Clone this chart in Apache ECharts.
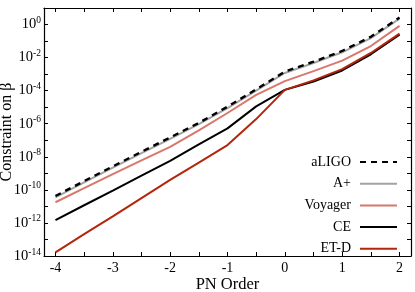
<!DOCTYPE html>
<html><head><meta charset="utf-8">
<script src="https://cdn.jsdelivr.net/npm/echarts@6/dist/echarts.min.js"></script>
<style>html,body{margin:0;padding:0;background:#fff}#c{width:415px;height:292px}</style>
</head><body><div id="c"></div>
<script>
const pnOrder = [-4,-3.5,-3,-2.5,-2,-1.5,-1,-0.5,0,0.5,1,1.5,2];
// log10 of the constraint on beta
const aLIGO   = [-10.37,-9.47,-8.58,-7.70,-6.83,-5.95,-4.97,-3.92,-2.85,-2.25,-1.60,-0.74,0.42];
const Aplus   = [-10.45,-9.55,-8.66,-7.78,-6.91,-6.03,-5.05,-4.00,-2.93,-2.33,-1.68,-0.82,0.36];
const Voyager = [-10.75,-9.90,-9.05,-8.22,-7.40,-6.40,-5.35,-4.25,-3.42,-2.82,-2.18,-1.30,-0.08];
const CE      = [-11.83,-10.93,-10.04,-9.14,-8.25,-7.25,-6.28,-4.95,-3.95,-3.45,-2.78,-1.80,-0.62];
const ETD     = [-13.78,-12.68,-11.60,-10.50,-9.40,-8.35,-7.29,-5.72,-3.95,-3.38,-2.70,-1.72,-0.55];
const xLabelVals = [-4,-3,-2,-1,0,1,2];
const xTickVals  = [-4,-3.5,-3,-2.5,-2,-1.5,-1,-0.5,0,0.5,1,1.5,2];
const yLabelVals = [1e-14,1e-12,1e-10,1e-8,1e-6,1e-4,1e-2,1e0];
const yTickVals  = [1e-14,1e-13,1e-12,1e-11,1e-10,1e-9,1e-8,1e-7,1e-6,1e-5,1e-4,1e-3,1e-2,1e-1,1e0,1e1];

const FONT = '"Liberation Serif","DejaVu Serif",serif';
function pts(arr){ return pnOrder.map((x,i)=>[x, Math.pow(10, arr[i])]); }
function line(){ return {show:true, onZero:false, lineStyle:{color:'#000', width:1.2}}; }
function ticks(vals){ return {show:true, inside:true, length:4, customValues:vals, lineStyle:{color:'#000', width:1}}; }

const chart = echarts.init(document.getElementById('c'), null, {renderer:'canvas'});
chart.setOption({
  animation:false,
  backgroundColor:'#fff',
  grid:{left:44, right:4, top:8, bottom:36, outerBoundsMode:'none'},
  legend:{
    data:['aLIGO','A+','Voyager','CE','ET-D'],
    orient:'vertical', right:12, top:150, align:'right',
    itemWidth:37, itemHeight:14, itemGap:7.7,
    itemStyle:{opacity:0},
    textStyle:{fontFamily:FONT, fontSize:14, color:'#000', padding:[0,4,0,0]}
  },
  xAxis:[{
    type:'value', min:-4.2, max:2.2,
    name:'PN Order', nameLocation:'middle', nameGap:20, nameMoveOverlap:false,
    nameTextStyle:{fontFamily:FONT, fontSize:16.5, color:'#000'},
    axisLine:line(), axisTick:ticks(xTickVals), splitLine:{show:false},
    axisLabel:{customValues:xLabelVals, fontFamily:FONT, fontSize:14, color:'#000', margin:5,
      formatter:v=>String(Math.round(v))}
  },{
    type:'value', position:'top', min:-4.2, max:2.2,
    axisLine:line(), axisTick:ticks(xTickVals), axisLabel:{show:false}, splitLine:{show:false}
  }],
  yAxis:[{
    type:'log', logBase:10, min:1e-14, max:10,
    name:'Constraint on β', nameLocation:'middle', nameGap:29, nameMoveOverlap:false,
    nameTextStyle:{fontFamily:FONT, fontSize:16, color:'#000'},
    axisLine:line(), axisTick:ticks(yTickVals), splitLine:{show:false},
    axisLabel:{customValues:yLabelVals, margin:3, fontFamily:FONT, color:'#000',
      formatter:v=>'{b|10}{s|'+Math.round(Math.log10(v))+'}',
      rich:{b:{fontFamily:FONT, fontSize:14.5, color:'#000'}, s:{fontFamily:FONT, fontSize:9.5, color:'#000', padding:[0,0,8,0]}}}
  },{
    type:'log', logBase:10, min:1e-14, max:10, position:'right',
    axisLine:line(), axisTick:ticks(yTickVals), axisLabel:{show:false}, splitLine:{show:false}
  }],
  series:[
    {name:'aLIGO', type:'line', data:pts(aLIGO), showSymbol:false, symbol:'none', z:5,
      lineStyle:{color:'#000', width:2.4, type:[6,5]}, itemStyle:{color:'#000'}},
    {name:'A+', type:'line', data:pts(Aplus), showSymbol:false, symbol:'none', z:2,
      lineStyle:{color:'#a3a3a3', width:2}, itemStyle:{color:'#a3a3a3'}},
    {name:'Voyager', type:'line', data:pts(Voyager), showSymbol:false, symbol:'none', z:2,
      lineStyle:{color:'#d9776a', width:2}, itemStyle:{color:'#d9776a'}},
    {name:'CE', type:'line', data:pts(CE), showSymbol:false, symbol:'none', z:2,
      lineStyle:{color:'#000', width:2}, itemStyle:{color:'#000'}},
    {name:'ET-D', type:'line', data:pts(ETD), showSymbol:false, symbol:'none', z:3,
      lineStyle:{color:'#b3260b', width:2}, itemStyle:{color:'#b3260b'}}
  ]
});
</script></body></html>
